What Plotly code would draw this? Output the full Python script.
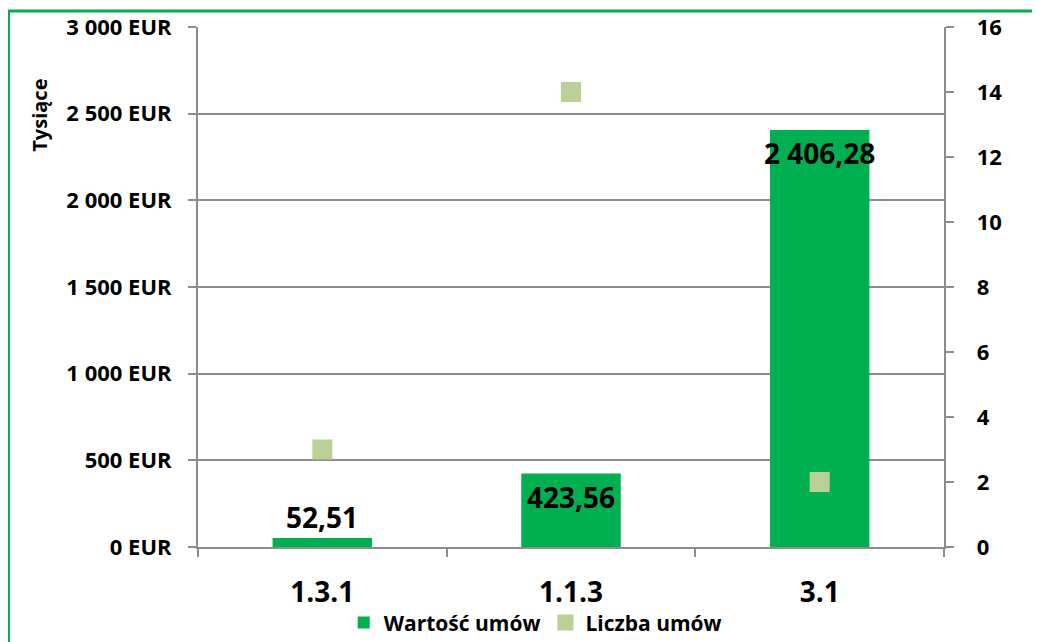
import plotly.graph_objects as go

categories = ["1.3.1", "1.1.3", "3.1"]
contract_values = [52.51, 423.56, 2406.28]   # thousands EUR
contract_counts = [3, 14, 2]
label_placement = ["above", "inside", "inside"]

def fmt(v):
    s = f"{v:,.2f}"
    return s.replace(",", " ").replace(".", ",")

value_labels = [fmt(v) for v in contract_values]

FONT = "Open Sans"
GRID = "#8c8c8c"
BAR = "#00B050"
MARK = "#B9D097"
PAD = "\u2007\u00a0"

fig = go.Figure()
fig.add_trace(go.Bar(
    x=categories, y=contract_values, name="Wartość umów",
    marker=dict(color=BAR, line=dict(width=0)),
    width=0.4,
))
fig.add_trace(go.Scatter(
    x=categories, y=contract_counts, name="Liczba umów", yaxis="y2",
    mode="markers",
    marker=dict(symbol="square", size=20, color=MARK),
))

annotations = []
for i, (val, lab, pl) in enumerate(zip(contract_values, value_labels, label_placement)):
    annotations.append(dict(
        x=i, y=val, xref="x", yref="y", text=lab, showarrow=False,
        xanchor="center", yanchor="bottom" if pl == "above" else "top",
        yshift=0 if pl == "above" else -2,
        font=dict(family=FONT, size=28, color="black", weight="bold"),
    ))
annotations.append(dict(
    text="Tysiące", xref="paper", yref="paper", x=-0.212, y=0.831,
    textangle=-90, showarrow=False, xanchor="center", yanchor="middle",
    font=dict(family=FONT, size=20, weight="bold"),
))

fig.update_layout(
    width=1032, height=634,
    margin=dict(l=190, r=96, t=19, b=95, autoexpand=False),
    paper_bgcolor="white", plot_bgcolor="white",
    separators=", ",
    font=dict(family=FONT, color="black"),
    showlegend=True,
    legend=dict(orientation="h", x=0.452, xanchor="center", y=-0.146, yanchor="middle",
                font=dict(family=FONT, size=21, weight="bold"), itemwidth=30,
                traceorder="normal", bgcolor="rgba(0,0,0,0)",
                tracegroupgap=0, borderwidth=0),
    xaxis=dict(
        type="category", range=[-0.5, 2.5], automargin=False,
        showgrid=False, showline=True, linecolor=GRID, linewidth=2,
        ticks="outside", tickson="boundaries", ticklen=8, tickcolor=GRID, tickwidth=2,
        tickfont=dict(family=FONT, size=28, weight="bold"), ticklabelstandoff=19,
    ),
    yaxis=dict(
        range=[0, 3000], dtick=500, tickformat=",d", ticksuffix=" EUR", automargin=False,
        showgrid=True, gridcolor=GRID, gridwidth=2, zeroline=False,
        showline=True, linecolor=GRID, linewidth=2,
        ticks="outside", ticklen=8, tickcolor=GRID, tickwidth=2,
        tickfont=dict(family=FONT, size=22, weight="bold"), ticklabelstandoff=12,
    ),
    yaxis2=dict(
        overlaying="y", side="right", range=[0, 16], dtick=2, automargin=False,
        showgrid=False, zeroline=False, showline=True, linecolor=GRID, linewidth=2,
        ticks="outside", ticklen=8, tickcolor=GRID, tickwidth=2, tickprefix=PAD,
        tickfont=dict(family=FONT, size=22, weight="bold"),
    ),
    annotations=annotations,
    shapes=[dict(
        type="rect", xref="paper", yref="paper",
        x0=-0.254, x1=1.3, y0=-0.4, y1=1.0308,
        line=dict(color=BAR, width=3), fillcolor="rgba(0,0,0,0)", layer="below",
    )],
)

fig.write_html("out.html")
